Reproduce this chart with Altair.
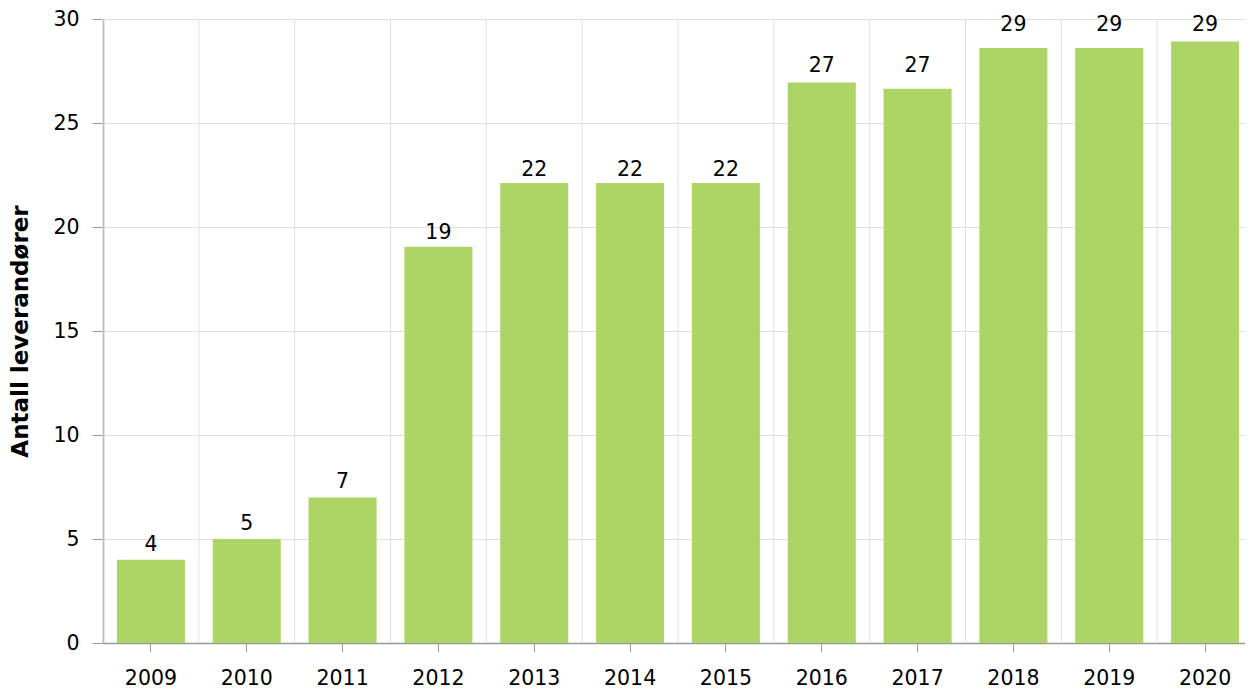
import altair as alt
import pandas as pd

years = ["2009", "2010", "2011", "2012", "2013", "2014", "2015", "2016", "2017", "2018", "2019", "2020"]
values = [4.0, 5.0, 7.0, 19.05, 22.12, 22.12, 22.12, 26.95, 26.65, 28.6, 28.6, 28.92]
labels = [4, 5, 7, 19, 22, 22, 22, 27, 27, 29, 29, 29]

df = pd.DataFrame({"year": years, "value": values, "label": labels})

FONT = "DejaVu Sans"
W, H = 1150, 624
PI = 0.29
step = W / len(years)
FS = 20.5

xscale = alt.Scale(paddingInner=PI, paddingOuter=PI / 2)
yscale = alt.Scale(domain=[0, 30])

bars = alt.Chart(df).mark_bar(color="#add566").encode(
    x=alt.X("year:O", scale=xscale, sort=years,
            axis=alt.Axis(title=None, labelAngle=0, labelAlign="center", bandPosition=0.5,
                          grid=False, ticks=True,
                          tickSize=9, labelPadding=26, labelFontSize=FS,
                          labelFont=FONT, labelColor="#000", tickColor="#999",
                          domainColor="#999", domainWidth=1.5)),
    y=alt.Y("value:Q", scale=yscale,
            axis=alt.Axis(title="Antall leverandører", values=[0, 5, 10, 15, 20, 25, 30],
                          tickSize=11, labelPadding=13, labelFontSize=FS,
                          labelFont=FONT, labelColor="#000", tickColor="#999",
                          domainColor="#999", domainWidth=1.5, gridColor="#e0e0e0",
                          titleFont=FONT, titleFontSize=23, titleFontWeight="bold",
                          titleColor="#000", titlePadding=20)),
)

vgrid = alt.Chart(df).mark_rule(color="#e0e0e0", xOffset=-PI * step / 2).encode(
    x=alt.X("year:O", scale=xscale, sort=years, bandPosition=0),
)

text = alt.Chart(df).mark_text(font=FONT, fontSize=FS, color="#000",
                               baseline="alphabetic", dy=-9).encode(
    x=alt.X("year:O", scale=xscale, sort=years),
    y=alt.Y("label:Q", scale=yscale),
    text=alt.Text("label:Q"),
)

chart = alt.layer(vgrid, bars, text).properties(
    width=W, height=H,
    padding={"left": 1, "top": 1, "right": -8, "bottom": 0},
).configure_view(stroke="#e0e0e0").configure(background="white")

chart.save("out.html", embed_options={"renderer": "svg", "actions": False})
